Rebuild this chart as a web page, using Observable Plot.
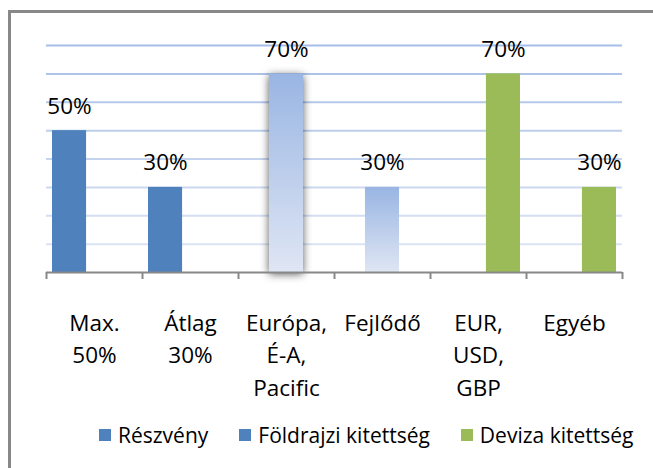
<!DOCTYPE html>
<html><head><meta charset="utf-8">
<script src="https://cdn.jsdelivr.net/npm/d3@7"></script>
<script src="https://cdn.jsdelivr.net/npm/@observablehq/plot@0.6"></script>
<style>
html,body{margin:0;padding:0;background:#fff;overflow:hidden;width:653px;height:468px;}
body{position:relative;font-family:"Open Sans",Lato,sans-serif;}
#frame{position:absolute;left:8px;top:10px;width:720px;height:540px;border:3px solid #888;box-sizing:border-box;z-index:5;pointer-events:none;}
#chart{position:absolute;left:0;top:0;}
#legend{position:absolute;left:99px;top:421px;display:flex;align-items:center;gap:31px;font-size:21px;color:#000;}
#legend .item{display:flex;align-items:center;gap:7px;}
#legend .sw{width:12px;height:12px;display:inline-block;}
</style></head>
<body>
<div id="frame"></div>
<div id="chart"></div>
<div id="legend"></div>
<script>
const categories = ["Max.\n50%", "Átlag\n30%", "Európa,\nÉ-A,\nPacific", "Fejlődő", "EUR,\nUSD,\nGBP", "Egyéb"];
const values = [0.5, 0.3, 0.7, 0.3, 0.7, 0.3];
const seriesIndex = [0, 0, 1, 1, 2, 2];
const seriesNames = ["Részvény", "Földrajzi kitettség", "Deviza kitettség"];
const seriesColors = ["#4F81BD", "#9DB8E4", "#9BBB59"];
const legendColors = ["#4F81BD", "#4F81BD", "#9BBB59"];
const gridTicks = [0.1, 0.2, 0.3, 0.4, 0.5, 0.6, 0.7, 0.8];
const categoryBounds = d3.range(categories.length + 1);

const rows = categories.map((c, i) => ({i, cat: c, value: values[i], s: seriesIndex[i]}));
const slot = 0.26, bw = 0.355;
const cx = d => d.i + 0.5 + (d.s - 1) * slot;
const fmt = d3.format(".0%");
const FS = 22.5;

const barMarks = seriesNames.map((name, s) =>
  Plot.rectY(rows.filter(d => d.s === s), {
    x1: d => cx(d) - bw / 2, x2: d => cx(d) + bw / 2, y: "value",
    fill: seriesColors[s], ariaDescription: "bars-" + s
  })
);

const plot = Plot.plot({
  width: 653, height: 410,
  marginLeft: 46, marginRight: 31, marginTop: 45, marginBottom: 138,
  x: {type: "linear", domain: [0, categories.length], axis: null},
  y: {domain: [0, 0.8], axis: null},
  style: {fontFamily: "'Open Sans', Lato, sans-serif", background: "transparent"},
  marks: [
    Plot.ruleY(gridTicks, {stroke: "#A9C1E8", strokeWidth: 2, ariaDescription: "grid"}),
    ...barMarks,
    Plot.ruleY([0], {stroke: "#888", strokeWidth: 2}),
    Plot.ruleX(categoryBounds, {x: d => d, y1: () => 0, y2: () => 0, insetBottom: -7, stroke: "#888", strokeWidth: 2}),
    Plot.text(rows, {x: cx, y: "value", text: d => fmt(d.value), dy: -17, lineAnchor: "bottom", fontSize: FS, fill: "#000"}),
    Plot.text(rows, {x: d => d.i + 0.5, y: () => 0, text: "cat", lineAnchor: "top", dy: 51 - 0.71 * FS, lineHeight: 32.5 / FS, fontSize: FS, fill: "#000"})
  ]
});

const svg = d3.select(plot);
const defs = svg.insert("defs", ":first-child");
const yr = plot.scale("y").range;
const gg = defs.append("linearGradient").attr("id", "gridGrad").attr("gradientUnits", "userSpaceOnUse")
  .attr("x1", 0).attr("x2", 0).attr("y1", Math.min(...yr)).attr("y2", Math.max(...yr));
gg.append("stop").attr("offset", "0%").attr("stop-color", "#A6BEE7");
gg.append("stop").attr("offset", "100%").attr("stop-color", "#E2E9F6");
const bg = defs.append("linearGradient").attr("id", "barGrad").attr("x1", 0).attr("x2", 0).attr("y1", 0).attr("y2", 1);
bg.append("stop").attr("offset", "0%").attr("stop-color", "#99B5E3");
bg.append("stop").attr("offset", "100%").attr("stop-color", "#DFE6F4");
svg.selectAll('[aria-description="grid"] line').attr("stroke", "url(#gridGrad)");
svg.selectAll('[aria-description="bars-1"] rect').attr("fill", "url(#barGrad)");
svg.select('[aria-description="bars-1"] rect').style("filter", "drop-shadow(0px 2px 4px rgba(0,0,0,0.65))");

document.getElementById("chart").appendChild(plot);

const legend = d3.select("#legend");
seriesNames.forEach((n, s) => {
  const it = legend.append("div").attr("class", "item");
  it.append("span").attr("class", "sw").style("background", legendColors[s]);
  it.append("span").text(n);
});
</script>
</body></html>
